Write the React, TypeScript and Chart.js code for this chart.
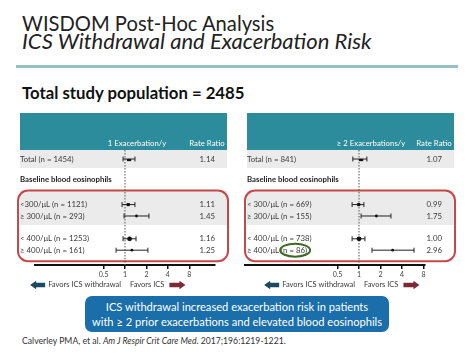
import React, { useEffect, useRef } from "react";
import { Chart, registerables } from "chart.js";

Chart.register(...registerables);

const FONT = "Lato, 'Open Sans', 'DejaVu Sans', sans-serif";

// Row order of each forest plot; empty strings are spacer rows
const ROWS = ["total", "", "baseline", "", "lt300", "ge300", "", "lt400", "ge400"];
const DATA_ROWS = ["total", "lt300", "ge300", "lt400", "ge400"];

const TICK_VALUES = [0.5, 1, 2, 4, 8];
const TICK_LABELS = ["0.5", "1", "2", "4", "8"];

const LEFT_HEADER = "1 Exacerbation/y";
const LEFT_LABELS = ["Total (n = 1454)", "<300/μL (n = 1121)", "≥ 300/μL (n = 293)", "< 400/μL (n = 1253)", "≥ 400/μL (n = 161)"];
const LEFT_RATIO = [1.14, 1.11, 1.45, 1.16, 1.25];
const LEFT_LOWER = [0.94, 0.91, 0.97, 0.94, 0.75];
const LEFT_UPPER = [1.38, 1.38, 2.17, 1.43, 2.1];
const LEFT_RATIO_TEXT = ["1.14", "1.11", "1.45", "1.16", "1.25"];

const RIGHT_HEADER = "≥ 2 Exacerbations/y";
const RIGHT_LABELS = ["Total (n = 841)", "< 300/μL (n = 669)", "≥ 300/μL (n = 155)", "< 400/μL (n = 738)", "≥ 400/μL (n = 86)"];
const RIGHT_RATIO = [1.07, 0.99, 1.75, 1.0, 2.96];
const RIGHT_LOWER = [0.82, 0.8, 1.07, 0.8, 1.52];
const RIGHT_UPPER = [1.29, 1.17, 2.8, 1.21, 5.9];
const RIGHT_RATIO_TEXT = ["1.07", "0.99", "1.75", "1.00", "2.96"];

const TITLE = "WISDOM Post-Hoc Analysis";
const SUBTITLE = "ICS Withdrawal and Exacerbation Risk";
const POPULATION = "Total study population = 2485";
const BOX_LINE_1 = "ICS withdrawal increased exacerbation risk in patients";
const BOX_LINE_2 = "with ≥ 2 prior exacerbations and elevated blood eosinophils";
const CITE_A = "Calverley PMA, et al. ";
const CITE_B = "Am J Respir Crit Care Med";
const CITE_C = ". 2017;196:1219-1221.";

const MARKER_STYLE = ["rect", "rect", "circle", "circle", "circle"];
const MARKER_RADIUS = [3, 2.2, 1.4, 2.4, 1.4];

function textWidth(text: string, font: string) {
  const c = document.createElement("canvas").getContext("2d") as CanvasRenderingContext2D;
  c.font = font;
  return c.measureText(text).width;
}

// font size (px) that makes `parts` span `target` pixels
function fitSize(parts: [string, string][], target: number) {
  let w = 0;
  parts.forEach(([t, pre]) => {
    w += textWidth(t, `${pre} 100px ${FONT}`);
  });
  return (100 * target) / w;
}

function roundRect(ctx: CanvasRenderingContext2D, x: number, y: number, w: number, h: number, r: number) {
  ctx.beginPath();
  ctx.moveTo(x + r, y);
  ctx.lineTo(x + w - r, y);
  ctx.arcTo(x + w, y, x + w, y + r, r);
  ctx.lineTo(x + w, y + h - r);
  ctx.arcTo(x + w, y + h, x + w - r, y + h, r);
  ctx.lineTo(x + r, y + h);
  ctx.arcTo(x, y + h, x, y + h - r, r);
  ctx.lineTo(x, y + r);
  ctx.arcTo(x, y, x + r, y, r);
  ctx.closePath();
}

function drawArrow(ctx: CanvasRenderingContext2D, x0: number, x1: number, y: number, dir: number, color: string) {
  const head = 6;
  const bh = 2.2;
  const hh = 4.2;
  ctx.fillStyle = color;
  ctx.beginPath();
  if (dir < 0) {
    ctx.moveTo(x0, y);
    ctx.lineTo(x0 + head, y - hh);
    ctx.lineTo(x0 + head, y - bh);
    ctx.lineTo(x1, y - bh);
    ctx.lineTo(x1, y + bh);
    ctx.lineTo(x0 + head, y + bh);
    ctx.lineTo(x0 + head, y + hh);
  } else {
    ctx.moveTo(x1, y);
    ctx.lineTo(x1 - head, y - hh);
    ctx.lineTo(x1 - head, y - bh);
    ctx.lineTo(x0, y - bh);
    ctx.lineTo(x0, y + bh);
    ctx.lineTo(x1 - head, y + bh);
    ctx.lineTo(x1 - head, y + hh);
  }
  ctx.closePath();
  ctx.fill();
}

const panelPlugin = {
  id: "panel",
  beforeDraw(chart: any, _a: any, o: any) {
    const ctx: CanvasRenderingContext2D = chart.ctx;
    const xs = chart.scales.x;
    const ys = chart.scales.y;
    const row = (k: string) => ys.getPixelForValue(ROWS.indexOf(k));
    const L = o.boxLeft;
    const R = o.boxRight;
    const yTotal = row("total");
    const hTop = o.headerTop;
    const hBot = yTotal - 9;
    ctx.save();
    ctx.fillStyle = "#2c8c9b";
    ctx.fillRect(L, hTop, R - L, hBot - hTop);
    ctx.fillStyle = "#ebebeb";
    ctx.fillRect(L, hBot, R - L, 18);
    const gTop = row("lt300") - 14;
    const gBot = row("ge300") + 9;
    ctx.fillRect(L, gTop, R - L, gBot - gTop);
    const bBot = row("ge400") + 11;
    roundRect(ctx, L - 2, gTop, R - L + 3, bBot - gTop, 10);
    ctx.strokeStyle = "#c5484b";
    ctx.lineWidth = 2;
    ctx.stroke();

    const ref = xs.getPixelForValue(1);
    ctx.textBaseline = "middle";
    ctx.fillStyle = "#ffffff";
    ctx.font = `7.8px ${FONT}`;
    ctx.textAlign = "center";
    ctx.fillText(o.header, ref + 12, hBot - 7);
    ctx.fillText("Rate Ratio", R - 20, hBot - 7);

    ctx.fillStyle = "#3a3a3a";
    ctx.textAlign = "left";
    DATA_ROWS.forEach((k, i) => ctx.fillText(o.labels[i], L, row(k)));
    ctx.textAlign = "right";
    DATA_ROWS.forEach((k, i) => ctx.fillText(o.ratioText[i], R - 12, row(k)));
    ctx.textAlign = "left";
    ctx.fillStyle = "#222222";
    ctx.font = `bold 7.8px ${FONT}`;
    ctx.fillText("Baseline blood eosinophils", L, row("baseline") - 2);
    ctx.restore();
  },
  beforeDatasetsDraw(chart: any, _a: any, o: any) {
    const ctx: CanvasRenderingContext2D = chart.ctx;
    const xs = chart.scales.x;
    const ys = chart.scales.y;
    const row = (k: string) => ys.getPixelForValue(ROWS.indexOf(k));
    const ref = xs.getPixelForValue(1);
    ctx.save();
    ctx.strokeStyle = "#555";
    ctx.lineWidth = 1;
    ctx.setLineDash([1.5, 1.5]);
    ctx.beginPath();
    ctx.moveTo(ref, row("total") - 9);
    ctx.lineTo(ref, chart.chartArea.bottom);
    ctx.stroke();
    ctx.setLineDash([]);
    ctx.strokeStyle = "#222";
    DATA_ROWS.forEach((k, i) => {
      const y = row(k);
      const a = xs.getPixelForValue(o.lower[i]);
      const b = xs.getPixelForValue(o.upper[i]);
      ctx.beginPath();
      ctx.moveTo(a, y);
      ctx.lineTo(b, y);
      ctx.moveTo(a, y - 2.5);
      ctx.lineTo(a, y + 2.5);
      ctx.moveTo(b, y - 2.5);
      ctx.lineTo(b, y + 2.5);
      ctx.stroke();
    });
    ctx.restore();
  },
  afterDraw(chart: any, _a: any, o: any) {
    const ctx: CanvasRenderingContext2D = chart.ctx;
    const xs = chart.scales.x;
    const ys = chart.scales.y;
    const ref = xs.getPixelForValue(1);
    const y = chart.chartArea.bottom + 20;
    ctx.save();
    ctx.font = `7.5px ${FONT}`;
    ctx.fillStyle = "#3a3a3a";
    ctx.textBaseline = "middle";
    const t1 = "Favors ICS withdrawal";
    const t2 = "Favors ICS";
    const w1 = ctx.measureText(t1).width;
    const w2 = ctx.measureText(t2).width;
    ctx.textAlign = "right";
    ctx.fillText(t1, ref - 4, y);
    ctx.textAlign = "left";
    ctx.fillText(t2, ref + 5, y);
    drawArrow(ctx, ref - 4 - w1 - 18, ref - 4 - w1 - 3, y, -1, "#1c4a63");
    drawArrow(ctx, ref + 5 + w2 + 5, ref + 5 + w2 + 21, y, 1, "#7b2a35");

    if (o.circleRow) {
      ctx.font = `7.8px ${FONT}`;
      const idx = DATA_ROWS.indexOf(o.circleRow);
      const label: string = o.labels[idx];
      const cut = label.indexOf("(") + 1;
      const pre = ctx.measureText(label.slice(0, cut)).width;
      const part = ctx.measureText(label.slice(cut)).width;
      const cy = ys.getPixelForValue(ROWS.indexOf(o.circleRow));
      ctx.strokeStyle = "#3d6a24";
      ctx.lineWidth = 2;
      ctx.beginPath();
      ctx.ellipse(o.boxLeft + pre + part / 2, cy, part / 2 + 3, 6.5, 0, 0, Math.PI * 2);
      ctx.stroke();
    }
    ctx.restore();
  },
};

type PanelProps = {
  left: number;
  top: number;
  width: number;
  height: number;
  header: string;
  labels: string[];
  ratio: number[];
  lower: number[];
  upper: number[];
  ratioText: string[];
  xMin: number;
  xMax: number;
  padLeft: number;
  padRight: number;
  boxLeft: number;
  boxRight: number;
  circleRow?: string;
};

function ForestPanel(p: PanelProps) {
  const ref = useRef<HTMLCanvasElement>(null);
  useEffect(() => {
    const chart = new Chart(ref.current as HTMLCanvasElement, {
      type: "scatter",
      data: {
        datasets: [
          {
            data: DATA_ROWS.map((k, i) => ({ x: p.ratio[i], y: ROWS.indexOf(k) })),
            pointStyle: MARKER_STYLE as any,
            pointRadius: MARKER_RADIUS,
            backgroundColor: "#111",
            borderColor: "#111",
            borderWidth: 0,
          },
        ],
      },
      options: {
        responsive: false,
        animation: false,
        devicePixelRatio: 1,
        layout: { padding: { left: p.padLeft, right: p.padRight, top: 51, bottom: 0 } },
        plugins: {
          legend: { display: false },
          tooltip: { enabled: false },
          panel: {
            header: p.header,
            labels: p.labels,
            ratioText: p.ratioText,
            lower: p.lower,
            upper: p.upper,
            boxLeft: p.boxLeft,
            boxRight: p.boxRight,
            headerTop: 5,
            circleRow: p.circleRow,
          },
        } as any,
        scales: {
          x: {
            type: "logarithmic",
            min: p.xMin,
            max: p.xMax,
            bounds: "data",
            afterBuildTicks: (s: any) => {
              s.ticks = TICK_VALUES.map((v) => ({ value: v }));
            },
            afterFit: (s: any) => {
              s.height = 33;
            },
            ticks: {
              autoSkip: false,
              maxRotation: 0,
              padding: 2,
              color: "#444",
              font: { family: FONT, size: 7 },
              callback: (_v: any, i: number) => TICK_LABELS[i],
            },
            grid: { drawOnChartArea: false, drawTicks: true, tickLength: 4, color: "#111", lineWidth: 1.5 },
            border: { display: true, color: "#111", width: 2 },
          } as any,
          y: {
            type: "linear",
            reverse: true,
            min: 0,
            max: ROWS.length + 0.3,
            display: false,
          },
        },
      },
      plugins: [panelPlugin as any],
    });
    return () => chart.destroy();
  }, []);
  return (
    <canvas
      ref={ref}
      width={p.width}
      height={p.height}
      style={{ position: "absolute", left: p.left, top: p.top, width: p.width, height: p.height }}
    />
  );
}

// place text so its baseline sits at `baseline` (Lato metrics: asc .987, desc .213)
function baselineTop(baseline: number, size: number) {
  return baseline - 0.887 * size;
}

export default function App() {
  const titleSize = fitSize([[TITLE, "normal normal"]], 253);
  const subSize = fitSize([[SUBTITLE, "italic normal"]], 350);
  const popSize = fitSize([[POPULATION, "normal bold"]], 223);
  const boxSize = fitSize([[BOX_LINE_1, "normal normal"]], 263);
  const citeSize = fitSize(
    [
      [CITE_A, "normal normal"],
      [CITE_B, "italic normal"],
      [CITE_C, "normal normal"],
    ],
    265
  );
  const line = (size: number) => ({ fontSize: size, lineHeight: `${size}px`, whiteSpace: "nowrap" as const });
  return (
    <div
      style={{
        position: "absolute",
        left: 0,
        top: 0,
        width: 474,
        height: 355,
        background: "#ffffff",
        overflow: "hidden",
        fontFamily: FONT,
        color: "#222",
      }}
    >
      <div style={{ position: "absolute", left: 22, top: baselineTop(31, titleSize), ...line(titleSize) }}>{TITLE}</div>
      <div style={{ position: "absolute", left: 22, top: baselineTop(49.5, subSize), fontStyle: "italic", ...line(subSize) }}>
        {SUBTITLE}
      </div>
      <div style={{ position: "absolute", left: 16, top: 65, width: 442, height: 3, background: "#94c1c0" }} />
      <div
        style={{ position: "absolute", left: 22, top: baselineTop(100, popSize), fontWeight: 700, color: "#111", ...line(popSize) }}
      >
        {POPULATION}
      </div>

      <ForestPanel
        left={14}
        top={108}
        width={220}
        height={190}
        header={LEFT_HEADER}
        labels={LEFT_LABELS}
        ratio={LEFT_RATIO}
        lower={LEFT_LOWER}
        upper={LEFT_UPPER}
        ratioText={LEFT_RATIO_TEXT}
        xMin={0.0544}
        xMax={18.4}
        padLeft={21}
        padRight={19}
        boxLeft={6}
        boxRight={213}
      />
      <ForestPanel
        left={240}
        top={108}
        width={222}
        height={190}
        header={RIGHT_HEADER}
        labels={RIGHT_LABELS}
        ratio={RIGHT_RATIO}
        lower={RIGHT_LOWER}
        upper={RIGHT_UPPER}
        ratioText={RIGHT_RATIO_TEXT}
        xMin={0.0253}
        xMax={8.4}
        padLeft={5}
        padRight={37}
        boxLeft={7}
        boxRight={214}
        circleRow="ge400"
      />

      <div
        style={{
          position: "absolute",
          left: 85,
          top: 296,
          width: 304,
          height: 36,
          borderRadius: 7,
          background: "#1a6ea9",
          color: "#fff",
          fontSize: boxSize,
          lineHeight: "15px",
          textAlign: "center",
          paddingTop: 3,
          boxSizing: "border-box",
          whiteSpace: "nowrap",
        }}
      >
        {BOX_LINE_1}
        <br />
        {BOX_LINE_2}
      </div>
      <div style={{ position: "absolute", left: 22, top: baselineTop(345, citeSize), color: "#333", ...line(citeSize) }}>
        {CITE_A}
        <i>{CITE_B}</i>
        {CITE_C}
      </div>
    </div>
  );
}
